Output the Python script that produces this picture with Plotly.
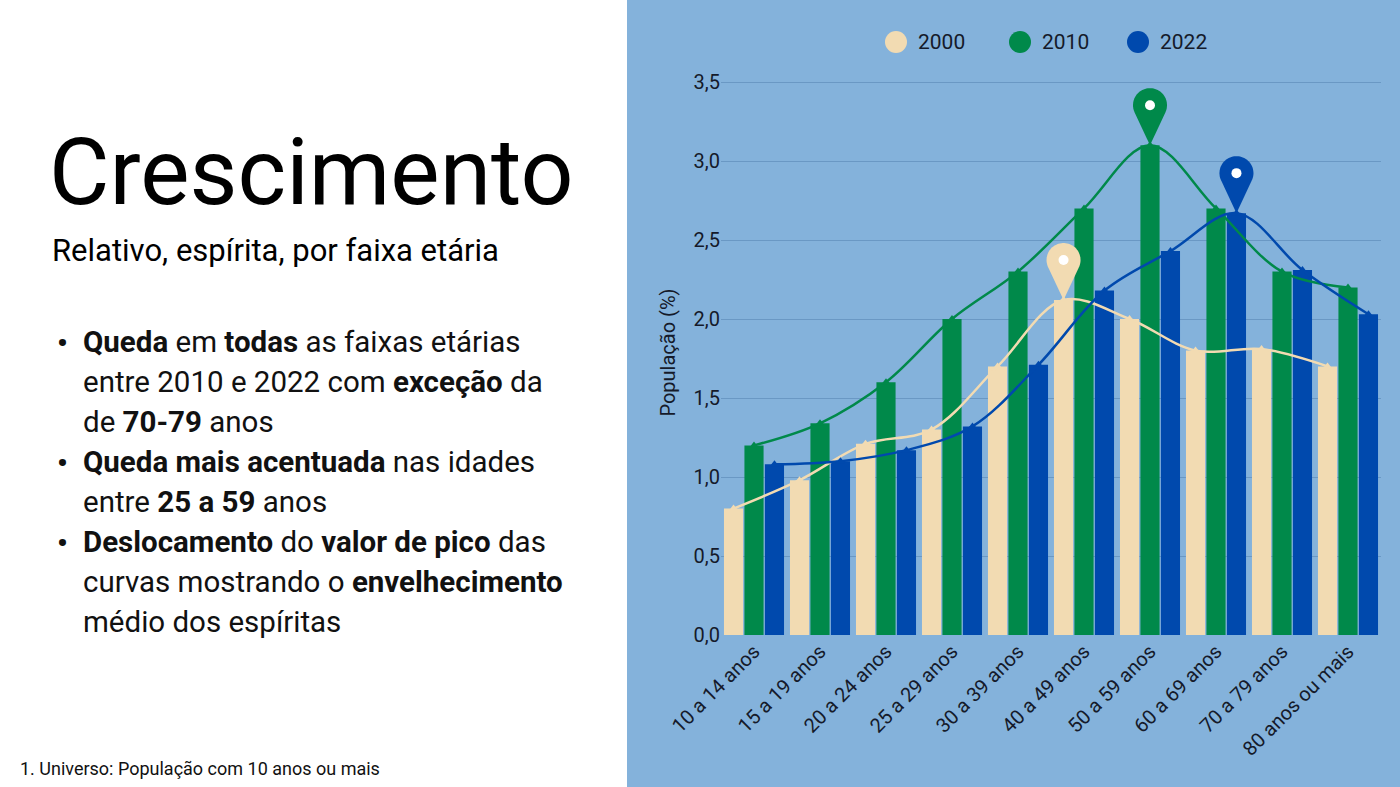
import numpy as np
import plotly.graph_objects as go

# dados (população espírita, % por faixa etária)
faixas = ["10 a 14 anos", "15 a 19 anos", "20 a 24 anos", "25 a 29 anos", "30 a 39 anos",
          "40 a 49 anos", "50 a 59 anos", "60 a 69 anos", "70 a 79 anos", "80 anos ou mais"]
anos = ["2000", "2010", "2022"]
pop_2000 = [0.80, 0.98, 1.21, 1.30, 1.70, 2.12, 2.00, 1.80, 1.81, 1.70]
pop_2010 = [1.20, 1.34, 1.60, 2.00, 2.30, 2.70, 3.10, 2.70, 2.30, 2.20]
pop_2022 = [1.08, 1.10, 1.17, 1.32, 1.71, 2.18, 2.43, 2.67, 2.31, 2.03]
y_ticks = [0.0, 0.5, 1.0, 1.5, 2.0, 2.5, 3.0, 3.5]

series = [pop_2000, pop_2010, pop_2022]
cores = ["#F2DBB2", "#00894A", "#0049AD"]
offsets = [-0.31, 0.0, 0.31]
BG = "#84B2DB"
W, H = 1400, 787
FONT = "Roboto"


def px(x):
    return x / W


def py(y):
    return 1 - y / H


def pin_path(r=17, h=40, n=48):
    # gota do marcador: ponta em (0,0), circulo de raio r centrado a h px acima
    a = np.arccos(r / h)
    th = np.linspace(a - np.pi / 2, 3 * np.pi / 2 - a, n)
    pts = ["M 0,0"] + [f"L {r*np.cos(t):.2f},{h + r*np.sin(t):.2f}" for t in th]
    return " ".join(pts) + " Z"


fig = go.Figure()
x_idx = np.arange(len(faixas))

for ano, vals, cor, off in zip(anos, series, cores, offsets):
    fig.add_trace(go.Bar(x=x_idx + off, y=vals, width=0.29, marker_color=cor,
                         marker_line_width=0, name=ano, showlegend=False))

for ano, vals, cor, off in zip(anos, series, cores, offsets):
    fig.add_trace(go.Scatter(x=x_idx + off, y=vals, mode="lines+markers",
                             line=dict(color=cor, width=2.5, shape="spline", smoothing=1.0),
                             marker=dict(symbol="triangle-up", size=8, color=cor),
                             name=ano, showlegend=False, hoverinfo="skip"))

shapes = [dict(type="rect", xref="paper", yref="paper", x0=px(627), x1=1, y0=0, y1=1,
               fillcolor=BG, line_width=0, layer="below")]

# marcadores de pico
for vals, cor, off in zip(series, cores, offsets):
    i = int(np.argmax(vals))
    shapes.append(dict(type="path", xref="x", yref="y", xsizemode="pixel", ysizemode="pixel",
                       xanchor=i + off, yanchor=vals[i], path=pin_path(),
                       fillcolor=cor, line_width=0))
    shapes.append(dict(type="circle", xref="x", yref="y", xsizemode="pixel", ysizemode="pixel",
                       xanchor=i + off, yanchor=vals[i], x0=-5, x1=5, y0=35, y1=45,
                       fillcolor="white", line_width=0))

# legenda manual
leg_x = [896, 1020, 1138]
annotations = []
for ano, cor, lx in zip(anos, cores, leg_x):
    shapes.append(dict(type="circle", xref="paper", yref="paper", xsizemode="pixel",
                       ysizemode="pixel", xanchor=px(lx), yanchor=py(42),
                       x0=-11, x1=11, y0=-11, y1=11, fillcolor=cor, line_width=0))
    annotations.append(dict(text=ano, x=px(lx + 20), y=py(42), xref="paper", yref="paper",
                            xanchor="left", yanchor="middle", showarrow=False,
                            font=dict(family=FONT, size=21, color="#151a2a")))

# texto da esquerda
annotations.append(dict(text="Crescimento", x=px(47), y=py(172), xref="paper", yref="paper",
                        xanchor="left", yanchor="middle", showarrow=False,
                        font=dict(family=FONT, size=93, color="#000000")))
annotations.append(dict(text="Relativo, espírita, por faixa etária", x=px(50), y=py(250),
                        xref="paper", yref="paper", xanchor="left", yanchor="middle",
                        showarrow=False, font=dict(family=FONT, size=31, color="#000000")))

linhas = [
    (True, "<b>Queda</b> em <b>todas</b> as faixas etárias"),
    (False, "entre 2010 e 2022 com <b>exceção</b> da"),
    (False, "de <b>70-79</b> anos"),
    (True, "<b>Queda mais acentuada</b> nas idades"),
    (False, "entre <b>25 a 59</b> anos"),
    (True, "<b>Deslocamento</b> do <b>valor de pico</b> das"),
    (False, "curvas mostrando o <b>envelhecimento</b>"),
    (False, "médio dos espíritas"),
]
for k, (bullet, txt) in enumerate(linhas):
    yy = py(342 + 40 * k)
    if bullet:
        annotations.append(dict(text="<b>•</b>", x=px(55), y=yy, xref="paper", yref="paper",
                                xanchor="left", yanchor="middle", showarrow=False,
                                font=dict(family=FONT, size=30, color="#111111")))
    annotations.append(dict(text=txt, x=px(81), y=yy, xref="paper", yref="paper",
                            xanchor="left", yanchor="middle", showarrow=False,
                            font=dict(family=FONT, size=29.5, color="#111111")))

annotations.append(dict(text="1. Universo: População com 10 anos ou mais", x=px(18), y=py(768),
                        xref="paper", yref="paper", xanchor="left", yanchor="middle",
                        showarrow=False, font=dict(family=FONT, size=18, color="#111111")))

fig.update_layout(
    width=W, height=H,
    margin=dict(l=0, r=0, t=0, b=0, pad=0),
    paper_bgcolor="white",
    plot_bgcolor=BG,
    separators=",.",
    barmode="overlay",
    showlegend=False,
    shapes=shapes,
    annotations=annotations,
    font=dict(family=FONT, color="#151a2a"),
    xaxis=dict(domain=[px(721), px(1381)], range=[-0.5, 9.5], tickmode="array",
               tickvals=list(x_idx), ticktext=faixas, tickangle=-45, automargin=False,
               tickfont=dict(family=FONT, size=20, color="#151a2a"),
               showgrid=False, zeroline=False, showline=False, ticks=""),
    yaxis=dict(domain=[py(635), py(70)], range=[0, 565 / 158], tickmode="array",
               tickvals=y_ticks, tickformat=".1f", automargin=False,
               tickfont=dict(family=FONT, size=20, color="#151a2a"),
               showgrid=True, gridcolor="#6A98C4", gridwidth=1, zeroline=False,
               showline=False, ticks="",
               title=dict(text="População (%)", standoff=12,
                          font=dict(family=FONT, size=20, color="#151a2a"))),
)

fig.write_html("out.html", config={"displayModeBar": False},
               post_script="document.body.style.margin='0';")
